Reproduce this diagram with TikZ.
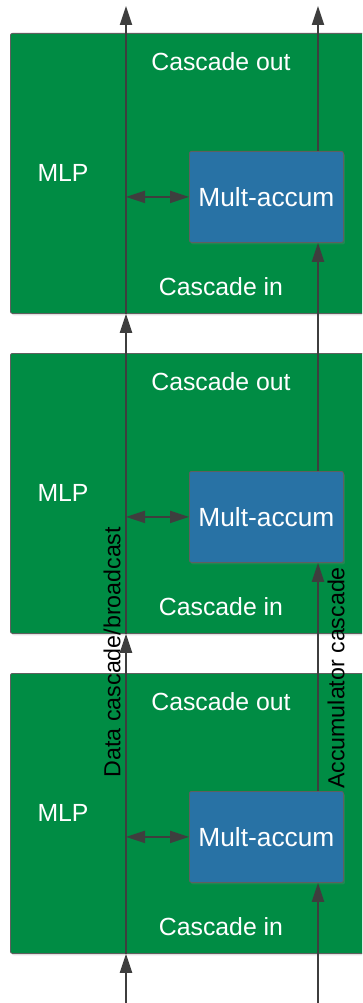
\documentclass[tikz,border=0pt]{standalone}
\usepackage{fontspec}
\setmainfont{Liberation Sans}
\usetikzlibrary{arrows.meta,shadows}
\definecolor{chipgreen}{RGB}{0,140,68}
\definecolor{macblue}{RGB}{40,114,165}
\definecolor{wire}{RGB}{62,62,62}
\definecolor{edgegray}{RGB}{95,95,95}
\tikzset{
  tile/.style={draw=edgegray, line width=0.8pt, fill=chipgreen, rounded corners=2pt,
    minimum width=372pt, minimum height=280pt, anchor=north west, inner sep=0pt,
    drop shadow={opacity=0.25, shadow xshift=1.5pt, shadow yshift=-2pt}},
  macbox/.style={draw=edgegray, line width=0.8pt, fill=macblue, rounded corners=2pt,
    minimum width=154pt, minimum height=91pt, anchor=north west, inner sep=0pt,
    text=white, font=\fontsize{26.3}{30}\selectfont,
    drop shadow={opacity=0.25, shadow xshift=1.5pt, shadow yshift=-2pt}},
  wlabel/.style={text=white, font=\fontsize{24.8}{28}\selectfont, inner sep=0pt},
  vlabel/.style={text=black, font=\fontsize{23.2}{26}\selectfont, inner sep=0pt, rotate=90},
  arr/.style={draw=wire, line width=2.2pt, -{Triangle[length=19pt,width=12pt]}},
  darr/.style={draw=wire, line width=2.2pt, {Triangle[length=19pt,width=12pt]}-{Triangle[length=19pt,width=12pt]}},
}
\begin{document}
\begin{tikzpicture}[x=1pt,y=-1pt]
\useasboundingbox (0,0) rectangle (362,1003);
\clip (0,0) rectangle (362,1003);
% tiles
\node[tile] (g1) at (10,33) {};
\node[tile] (g2) at (10,353) {};
\node[tile] (g3) at (10,673) {};
% MAC boxes
\node[macbox] (b1) at (189,151) {Mult-accum};
\node[macbox] (b2) at (189,471) {Mult-accum};
\node[macbox] (b3) at (189,791) {Mult-accum};
% labels
\node[wlabel] (co1) at (221,62) {Cascade out};
\node[wlabel] (ci1) at (221,287) {Cascade in};
\node[wlabel] (m1) at (63,173) {MLP};
\node[wlabel] (co2) at (221,382) {Cascade out};
\node[wlabel] (ci2) at (221,607) {Cascade in};
\node[wlabel] (m2) at (63,493) {MLP};
\node[wlabel] (co3) at (221,702) {Cascade out};
\node[wlabel] (ci3) at (221,927) {Cascade in};
\node[wlabel] (m3) at (63,813) {MLP};
% vertical wires
\coordinate (lbot) at (126,1003);
\coordinate (ltop) at (126,6);
\coordinate (rbot) at (318,1003);
\coordinate (rtop) at (318,6);
\draw[arr] (lbot) -- (lbot |- g3.south);
\draw[arr] (lbot |- g3.south) -- (lbot |- g2.south);
\draw[arr] (lbot |- g2.south) -- (lbot |- g1.south);
\draw[arr] (lbot |- g1.south) -- (ltop);
\draw[arr] (rbot) -- (rbot |- b3.south);
\draw[arr] (rbot |- b3.north) -- (rbot |- b2.south);
\draw[arr] (rbot |- b2.north) -- (rbot |- b1.south);
\draw[arr] (rbot |- b1.north) -- (rtop);
% horizontal links
\draw[darr] (lbot |- b1.west) -- (b1.west);
\draw[darr] (lbot |- b2.west) -- (b2.west);
\draw[darr] (lbot |- b3.west) -- (b3.west);
% rotated labels
\node[vlabel] (dlab) at (112,652) {Data cascade/broadcast};
\node[vlabel] (alab) at (336,678) {Accumulator cascade};
\end{tikzpicture}
\end{document}
